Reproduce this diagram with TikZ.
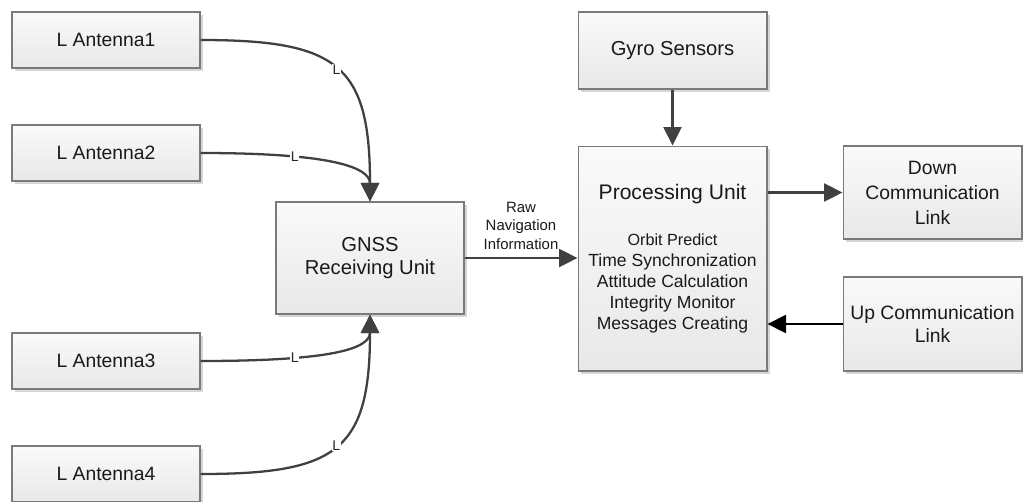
\documentclass[tikz,border=0pt]{standalone}
\usepackage{fontspec}
\setmainfont{Liberation Sans}
\usetikzlibrary{arrows.meta,shadows}
\definecolor{linegray}{HTML}{404040}
\definecolor{boxgray}{HTML}{7A7A7A}
\begin{document}
\begin{tikzpicture}[x=0.02cm, y=-0.02cm,
	box/.style={draw=boxgray, line width=0.6pt, top color=black!2, bottom color=black!9,
		drop shadow={shadow xshift=0.06cm, shadow yshift=-0.06cm, fill=black!16, opacity=1},
		align=center, inner sep=2pt, text=black!90},
	antbox/.style={box, minimum width=3.76cm, minimum height=1.12cm, font=\fontsize{11}{13}\selectfont},
	link/.style={draw=linegray, line width=1.3pt, -{Triangle[length=0.37cm, width=0.36cm]}},
	tag/.style={fill=white, inner sep=0.4pt, font=\fontsize{8}{9}\selectfont, text=black!85}]
	
	\useasboundingbox (0,0) rectangle (1023,501);
	
	% antennas on the left
	\node[antbox] (ant1) at (106,40) {L Antenna1};
	\node[antbox] (ant2) at (106,153) {L Antenna2};
	\node[antbox] (ant3) at (106,361) {L Antenna3};
	\node[antbox] (ant4) at (106,474) {L Antenna4};
	
	\node[box, minimum width=3.76cm, minimum height=2.24cm, font=\fontsize{11.5}{13.6}\selectfont] (gnss) at (370,258) {GNSS\\Receiving Unit};
	
	\node[box, minimum width=3.78cm, minimum height=1.54cm, font=\fontsize{11.5}{13}\selectfont] (gyro) at (672.5,50.5) {Gyro Sensors};
	\node[box, minimum width=3.78cm, minimum height=4.5cm] (proc) at (672.5,258.5)
		{\fontsize{12}{14}\selectfont Processing Unit\\[0.5cm]
		\fontsize{9.2}{11}\selectfont Orbit Predict\\ Time Synchronization\\ Attitude Calculation\\ Integrity Monitor\\ Messages Creating};
	
	\node[box, minimum width=3.58cm, minimum height=1.86cm, font=\fontsize{11}{14.2}\selectfont] (down) at (932.5,192.5) {Down\\Communication\\Link};
	\node[box, minimum width=3.58cm, minimum height=1.88cm, font=\fontsize{11}{13.5}\selectfont] (up) at (932.5,324) {Up Communication\\Link};
	
	% L band feeds
	\draw[link] (ant1.east) to[out=0, in=90, looseness=1.5] node[tag, pos=0.5] {L} (gnss.north);
	\draw[link] (ant2.east) to[out=0, in=90, out looseness=1.9, in looseness=0.5] node[tag, pos=0.3] {L} (gnss.north);
	\draw[link] (ant3.east) to[out=0, in=-90, out looseness=1.9, in looseness=0.5] node[tag, pos=0.3] {L} (gnss.south);
	\draw[link] (ant4.east) to[out=0, in=-90, looseness=1.5] node[tag, pos=0.5] {L} (gnss.south);
	
	\draw[link] (gnss.east) -- node[above=1pt, align=center, font=\fontsize{8.5}{10.5}\selectfont, text=black!90] {Raw\\Navigation\\Information} (proc.west |- gnss.east);
	\draw[link] (gyro.south) -- (proc.north);
	\draw[link] (proc.east |- down.west) -- (down.west);
	\draw[link, draw=black, fill=black] (up.west) -- (proc.east |- up.west);
\end{tikzpicture}
\end{document}
